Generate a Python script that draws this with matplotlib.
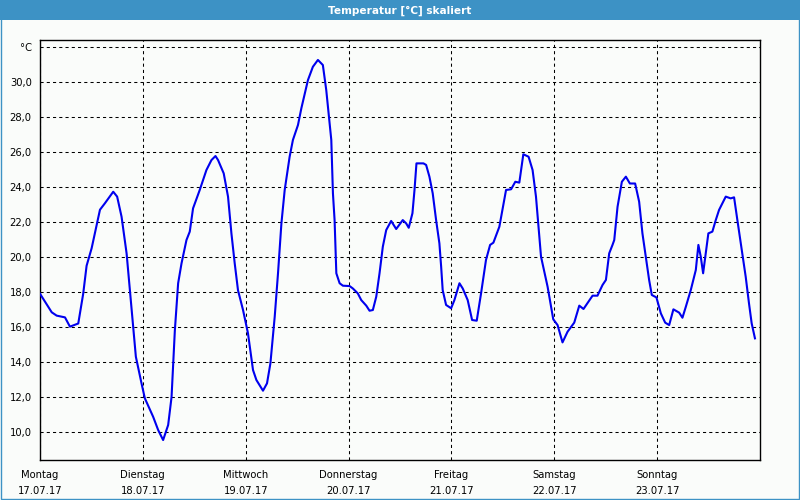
import matplotlib
matplotlib.use("Agg")
import matplotlib.pyplot as plt
from matplotlib.patches import Rectangle

# Time in days since Monday 17.07.17 00:00, temperature in °C
days = [0.0, 0.114, 0.162, 0.243, 0.291, 0.372, 0.420, 0.453, 0.502, 0.583, 0.631, 0.712, 0.750,
        0.793, 0.842, 0.874, 0.906, 0.932, 0.987, 1.019, 1.100, 1.149, 1.197, 1.246, 1.279, 1.311,
        1.343, 1.376, 1.424, 1.456, 1.488, 1.553, 1.618, 1.667, 1.706, 1.731, 1.786, 1.828, 1.861,
        1.893, 1.925, 1.974, 2.022, 2.071, 2.104, 2.168, 2.207, 2.240, 2.282, 2.314, 2.347, 2.379,
        2.427, 2.459, 2.508, 2.541, 2.605, 2.653, 2.702, 2.750, 2.783, 2.816, 2.832, 2.848, 2.864,
        2.881, 2.913, 2.945, 3.010, 3.042, 3.090, 3.123, 3.172, 3.204, 3.236, 3.269, 3.301, 3.333,
        3.366, 3.414, 3.463, 3.527, 3.560, 3.585, 3.621, 3.641, 3.660, 3.728, 3.754, 3.786, 3.818,
        3.851, 3.883, 3.900, 3.915, 3.948, 3.997, 4.029, 4.078, 4.110, 4.158, 4.201, 4.246, 4.288,
        4.336, 4.376, 4.408, 4.466, 4.531, 4.580, 4.621, 4.660, 4.699, 4.750, 4.789, 4.822, 4.871,
        4.935, 4.990, 5.032, 5.080, 5.129, 5.194, 5.243, 5.284, 5.372, 5.420, 5.469, 5.502, 5.534,
        5.566, 5.583, 5.615, 5.657, 5.696, 5.735, 5.786, 5.825, 5.857, 5.890, 5.922, 5.948, 5.993,
        6.036, 6.078, 6.117, 6.158, 6.214, 6.246, 6.279, 6.327, 6.376, 6.401, 6.424, 6.447, 6.473,
        6.498, 6.537, 6.570, 6.602, 6.667, 6.715, 6.748, 6.780, 6.828, 6.861, 6.893, 6.919, 6.951]
temps = [17.9, 16.84, 16.65, 16.55, 16.02, 16.2, 17.9, 19.5, 20.5, 22.7, 23.07, 23.73, 23.45,
         22.3, 20.2, 18.1, 16.0, 14.3, 12.78, 11.93, 10.87, 10.11, 9.54, 10.4, 12.0, 15.8,
         18.5, 19.64, 20.97, 21.45, 22.78, 23.83, 24.97, 25.54, 25.77, 25.54, 24.78, 23.45, 21.35,
         19.64, 18.1, 16.97, 15.64, 13.54, 12.97, 12.36, 12.78, 13.92, 16.59, 19.07, 21.92, 23.83,
         25.73, 26.69, 27.54, 28.5, 30.11, 30.87, 31.26, 30.97, 29.54, 27.64, 26.69, 23.64, 22.11,
         19.07, 18.5, 18.36, 18.34, 18.2, 17.92, 17.54, 17.22, 16.93, 16.97, 17.73, 19.07, 20.59,
         21.54, 22.06, 21.6, 22.11, 21.92, 21.67, 22.5, 23.83, 25.35, 25.35, 25.26, 24.59, 23.64,
         22.11, 20.78, 19.45, 18.11, 17.26, 17.07, 17.54, 18.5, 18.2, 17.54, 16.4, 16.36, 17.92,
         19.83, 20.69, 20.82, 21.73, 23.83, 23.87, 24.3, 24.25, 25.87, 25.73, 24.97, 23.45, 20.02,
         18.3, 16.44, 16.11, 15.12, 15.73, 16.25, 17.22, 17.03, 17.79, 17.79, 18.4, 18.69, 20.21,
         20.69, 20.97, 22.87, 24.3, 24.59, 24.2, 24.2, 23.16, 21.35, 20.02, 18.69, 17.83, 17.69,
         16.78, 16.25, 16.11, 17.01, 16.82, 16.53, 17.16, 18.11, 19.26, 20.69, 20.02, 19.07, 20.21,
         21.35, 21.45, 22.11, 22.69, 23.45, 23.35, 23.41, 22.11, 20.21, 18.87, 17.35, 16.21, 15.35]

day_names = ["Montag", "Dienstag", "Mittwoch", "Donnerstag", "Freitag", "Samstag", "Sonntag"]
dates = ["17.07.17", "18.07.17", "19.07.17", "20.07.17", "21.07.17", "22.07.17", "23.07.17"]
y_ticks = [10, 12, 14, 16, 18, 20, 22, 24, 26, 28, 30, 32]
title = "Temperatur [°C] skaliert"

bg = "#fafcfa"
frame = "#3d92c5"

fig = plt.figure(figsize=(8, 5), dpi=100, facecolor=bg)
ax = fig.add_axes([0.05, 0.08, 0.90, 0.84])
ax.set_facecolor(bg)

# title bar and window frame
fig.patches.append(Rectangle((0, 0.96), 1, 0.04, transform=fig.transFigure,
                             facecolor=frame, edgecolor="none", zorder=0))
fig.patches.append(Rectangle((0.0008, 0.0015), 0.9984, 0.997, transform=fig.transFigure,
                             facecolor="none", edgecolor=frame, lw=1.0, zorder=1))
fig.text(0.5, 0.979, title, ha="center", va="center", color="white",
         fontsize=7.6, fontweight="bold", family="DejaVu Sans")

ax.plot(days, temps, color="#0000ee", lw=1.5, zorder=3)

ax.set_xlim(0, 7)
ax.set_ylim(8.4, 32.4)

ax.set_xticks(range(7))
ax.set_xticklabels([f"{n}\n{d}" for n, d in zip(day_names, dates)], fontsize=7.2,
                   linespacing=1.65)
ax.set_yticks(y_ticks)
ax.set_yticklabels([("°C" if v == 32 else f"{v},0") for v in y_ticks], fontsize=7.2)
ax.tick_params(axis="both", length=0, colors="black")
ax.tick_params(axis="x", pad=7.5)
ax.tick_params(axis="y", pad=6)

ax.grid(True, color="black", linestyle=(0, (3, 3)), lw=0.75)
for s in ax.spines.values():
    s.set_color("black")
    s.set_linewidth(1.0)

fig.savefig("out.png", dpi=100, facecolor=bg)
